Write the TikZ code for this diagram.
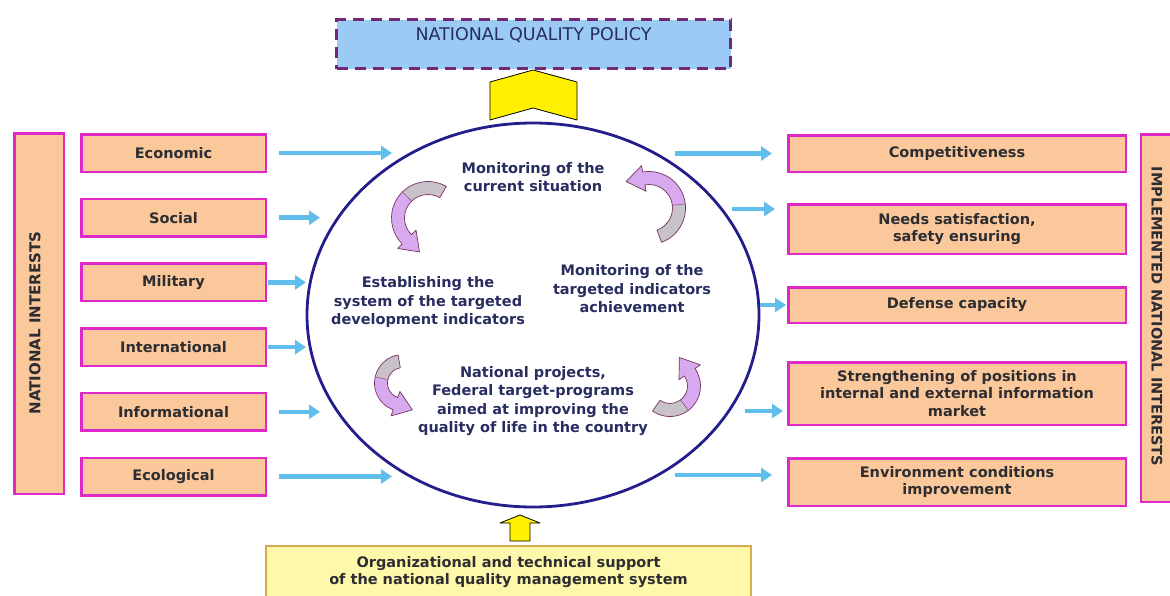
\documentclass[tikz,border=0pt]{standalone}
\usepackage{fontspec}
\setmainfont{DejaVu Sans}
\usepackage{xcolor}
\usetikzlibrary{arrows.meta,shapes.geometric,positioning,calc}

\definecolor{peach}{RGB}{250,200,155}
\definecolor{rim}{RGB}{222,40,200}
\definecolor{skyarrow}{RGB}{95,190,235}
\definecolor{ringblue}{RGB}{35,30,140}
\definecolor{policyblue}{RGB}{155,203,245}
\definecolor{policyrim}{RGB}{115,40,115}
\definecolor{supportfill}{RGB}{253,248,170}
\definecolor{supportrim}{RGB}{215,170,80}
\definecolor{inktext}{RGB}{45,45,50}
\definecolor{navytext}{RGB}{40,45,95}
\definecolor{swirllilac}{RGB}{215,170,240}
\definecolor{swirlgray}{RGB}{200,195,200}
\definecolor{swirlrim}{RGB}{120,50,95}
\definecolor{chevronyellow}{RGB}{255,240,0}

\newcommand{\cellfont}{\fontsize{14.5}{17.5}\selectfont\bfseries}
\newcommand{\ringfont}{\fontsize{14.5}{18.5}\selectfont\bfseries}
\newcommand{\policyfont}{\fontsize{17.5}{20}\selectfont}

% curved ribbon arrow: centre, start angle, end angle, radius (pt)
\newcommand{\bentarrow}[4]{%
  \begin{scope}[shift={#1}]
    \pgfmathsetmacro{\ro}{#4+6.5}
    \pgfmathsetmacro{\ri}{#4-6.5}
    \pgfmathsetmacro{\hw}{#4+13}
    \pgfmathsetmacro{\hn}{#4-13}
    \pgfmathsetmacro{\am}{#2+0.45*(#3-#2)}
    \pgfmathsetmacro{\tg}{#3+90}
    % grey tail
    \fill[swirlgray] (#2:\ro pt) arc[start angle=#2, end angle=\am, radius=\ro pt]
      -- (\am:\ri pt) arc[start angle=\am, end angle=#2, radius=\ri pt] -- cycle;
    % lilac part with the head
    \fill[swirllilac] (\am:\ro pt) arc[start angle=\am, end angle=#3, radius=\ro pt]
      -- (#3:\hw pt) -- ($(#3:#4pt)+(\tg:18pt)$) -- (#3:\hn pt) -- (#3:\ri pt)
      arc[start angle=#3, end angle=\am, radius=\ri pt] -- cycle;
    % outline
    \draw[swirlrim, line width=0.7pt, line join=round]
      (#2:\ro pt) arc[start angle=#2, end angle=#3, radius=\ro pt]
      -- (#3:\hw pt) -- ($(#3:#4pt)+(\tg:18pt)$) -- (#3:\hn pt) -- (#3:\ri pt)
      arc[start angle=#3, end angle=#2, radius=\ri pt] -- cycle;
    \draw[swirlrim, line width=0.4pt] (\am:\ro pt) -- (\am:\ri pt);
  \end{scope}}

\begin{document}
\begin{tikzpicture}[x=1pt, y=1pt,
    interest/.style={draw=rim, line width=2.5pt, fill=peach, text=inktext,
      align=center, inner sep=0pt, font=\cellfont},
    looptext/.style={text=navytext, align=center, font=\ringfont},
    flow/.style={draw=skyarrow, line width=4.5pt, -{Triangle[length=11pt, width=14pt]}},
    policybox/.style={draw=policyrim, fill=policyblue, line width=3pt,
      dash pattern=on 11pt off 7pt},
    supportbox/.style={draw=supportrim, fill=supportfill, line width=1.5pt,
      text=inktext, align=center, font=\cellfont},
    sidelabel/.style={text=inktext, font=\fontsize{15}{18}\selectfont\bfseries}]

	\useasboundingbox (0,0) rectangle (1170,-595);
	\clip (0,0) rectangle (1170,-595);

	% policy on top
	\node[policybox, minimum width=394, minimum height=49] (policy) at (533.5,-44) {};
	\node[text=navytext, font=\policyfont] (policytext) at (533.5,-35) {NATIONAL QUALITY POLICY};
	\draw[fill=chevronyellow, line width=0.8pt, line join=round]
		(490,-82) -- (533,-70) -- (577,-82) -- (577,-120) -- (533,-108) -- (490,-120) -- cycle;

	% national interests
	\node[interest, minimum width=49.5, minimum height=360.5] (nibox) at (39,-313.5) {};
	\node[sidelabel, rotate=90] (nilabel) at (35,-323) {NATIONAL INTERESTS};

	\node[interest, minimum width=184.5, minimum height=37.5] (eco) at (173.5,-153) {Economic};
	\node[interest, minimum width=184.5, minimum height=37.5, below=24.7pt of eco] (soc) {Social};
	\node[interest, minimum width=184.5, minimum height=37.5, below=24.7pt of soc] (mil) {Military};
	\node[interest, minimum width=184.5, minimum height=37.5, below=24.7pt of mil] (intl) {International};
	\node[interest, minimum width=184.5, minimum height=37.5, below=24.7pt of intl] (info) {Informational};
	\node[interest, minimum width=184.5, minimum height=37.5, below=24.7pt of info] (eco2) {Ecological};

	% the management cycle
	\node[draw=ringblue, line width=2.8pt, ellipse, minimum width=452, minimum height=384, inner sep=0pt] (core) at (533,-315) {};
	\node[looptext] (watch) at (533,-177) {Monitoring of the\\current situation};
	\node[looptext] (target) at (428,-302) {Establishing the\\system of the targeted\\development indicators};
	\node[looptext] (check) at (632,-289) {Monitoring of the\\targeted indicators\\achievement};
	\node[looptext] (projects) at (533,-401) {National projects,\\Federal target-programs\\aimed at improving the\\quality of life in the country};

	\bentarrow{(428,-218)}{60}{225}{30}
	\bentarrow{(403,-383)}{100}{250}{22}
	\bentarrow{(670,-386)}{235}{395}{24}
	\bentarrow{(649,-208)}{-70}{100}{30}

	% implemented interests
	\node[interest, minimum width=337.5, minimum height=36.5] (comp) at (957,-153.5) {Competitiveness};
	\node[interest, minimum width=337.5, minimum height=49.5] (needs) at (957,-229) {Needs satisfaction,\\safety ensuring};
	\node[interest, minimum width=337.5, minimum height=35.5] (defense) at (957,-305) {Defense capacity};
	\node[interest, minimum width=337.5, minimum height=62.5] (market) at (957,-393.5) {Strengthening of positions in\\internal and external information\\market};
	\node[interest, minimum width=337.5, minimum height=47.5] (envir) at (957,-482) {Environment conditions\\improvement};

	\node[interest, minimum width=34, minimum height=367.5] (inbox) at (1158,-318) {};
	\node[sidelabel, font=\fontsize{14.5}{17}\selectfont\bfseries, rotate=-90] (inlabel) at (1157,-316.5) {IMPLEMENTED NATIONAL INTERESTS};

	% inputs
	\draw[flow] ([xshift=12pt]eco.east) -- ([xshift=125pt]eco.east);
	\draw[flow] ([xshift=12pt]soc.east) -- ([xshift=53pt]soc.east);
	\draw[flow] ([xshift=1pt]mil.east) -- ([xshift=39pt]mil.east);
	\draw[flow] ([xshift=1pt]intl.east) -- ([xshift=39pt]intl.east);
	\draw[flow] ([xshift=12pt]info.east) -- ([xshift=53pt]info.east);
	\draw[flow] ([xshift=12pt]eco2.east) -- ([xshift=125pt]eco2.east);

	% outputs
	\draw[flow] ([xshift=-112pt]comp.west) -- ([xshift=-15pt]comp.west);
	\draw[flow] ([shift={(-55pt,20pt)}]needs.west) -- ([shift={(-12pt,20pt)}]needs.west);
	\draw[flow] ([xshift=-27pt]defense.west) -- ([xshift=-1pt]defense.west);
	\draw[flow] ([shift={(-42pt,-17.5pt)}]market.west) -- ([shift={(-4pt,-17.5pt)}]market.west);
	\draw[flow] ([shift={(-112pt,7pt)}]envir.west) -- ([shift={(-15pt,7pt)}]envir.west);

	% support at the bottom
	\node[supportbox, minimum width=485, minimum height=52] (support) at (508.5,-572) {Organizational and technical support\\of the national quality management system};
	\draw[fill=chevronyellow, line width=0.8pt, line join=round]
		(520,-515) -- (540,-523) -- (530,-523) -- (530,-541) -- (510,-541) -- (510,-523) -- (500,-523) -- cycle;
\end{tikzpicture}
\end{document}
